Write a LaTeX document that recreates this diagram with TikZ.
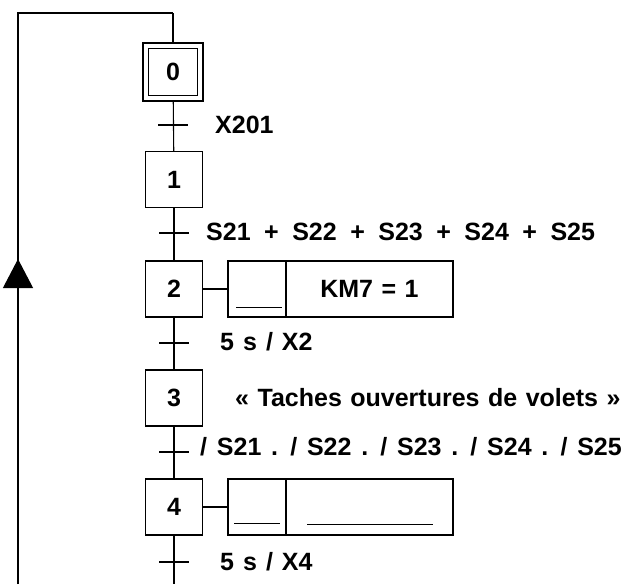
\documentclass[tikz,border=0pt]{standalone}
\usepackage{fontspec}
\setmainfont{Liberation Sans}
\usepackage{tikz}
\usetikzlibrary{arrows.meta, positioning, calc}

\begin{document}
\begin{tikzpicture}[
    x=1pt, y=-1pt,
    font=\fontsize{25}{29}\selectfont\bfseries,
    >=Stealth,
    % Styles
    stepbox/.style={
      draw=black,
      fill=white,
      line width=1.3pt,
      minimum width=57pt,
      minimum height=56pt,
      inner sep=0pt
    },
    qualcell/.style={
      draw=black,
      line width=1.3pt,
      minimum width=58pt,
      minimum height=56pt,
      inner sep=0pt
    },
    actcell/.style={
      draw=black,
      line width=1.3pt,
      minimum width=167pt,
      minimum height=56pt,
      inner sep=0pt
    },
    condlabel/.style={
      anchor=base west,
      inner sep=0pt
    },
    link/.style={
      line width=1.1pt,
      draw=black
    },
    tick/.style={
      line width=1.1pt,
      draw=black
    },
    blank/.style={
      line width=1pt,
      draw=black
    }
  ]

    \useasboundingbox (0,0) rectangle (629,584);

    % Steps
    \node (s0) [stepbox, minimum width=60pt, minimum height=58pt] at (173,72) {};
    \node (s0in) [stepbox, minimum width=49pt, minimum height=47pt] at (s0) {0};
    \node (s1) [stepbox] at (174,179.5) {1};
    \node (s2) [stepbox] at (174,289) {2};
    \node (s3) [stepbox] at (174,398) {3};
    \node (s4) [stepbox] at (174,507) {4};

    % Transitions
    \coordinate (t0) at (173,125);
    \coordinate (t1) at (174,233);
    \coordinate (t2) at (174,343);
    \coordinate (t3) at (174,452);
    \coordinate (t4) at (174,562);
    \coordinate (bot) at (174,584);

    % Actions
    \node (a2q) [qualcell] at (257,289) {};
    \node (a2) [actcell] at (369.5,289) {\spaceskip=8.5pt KM7 = 1};
    \node (a4q) [qualcell] at (257,507) {};
    \node (a4) [actcell] at (369.5,507) {};

    % Receptivities and comment
    \node (c0) [condlabel] at (215,133) {X201};
    \node (c1) [condlabel] at (206,240) {\spaceskip=13.5pt S21 + S22 + S23 + S24 + S25};
    \node (c2) [condlabel] at (220,350) {\spaceskip=9pt 5 s / X2};
    \node (note3) [condlabel] at (235,406) {\spaceskip=8.5pt « Taches ouvertures de volets »};
    \node (c3) [condlabel] at (200,455) {\spaceskip=9.8pt / S21 . / S22 . / S23 . / S24 . / S25};
    \node (c4) [condlabel] at (220,570) {\spaceskip=9pt 5 s / X4};

    % Loop back
    \coordinate (bl) at (18,584);
    \coordinate (tl) at (18,13);
    \coordinate (tr) at (173,13);
    \coordinate (ar1) at (18,320);
    \coordinate (ar2) at (18,259);

    % Connections
    \draw [link] (tr) -- (s0.north);
    \draw [link] (s0) -- (s1);
    \draw [link] (s1) -- (s2);
    \draw [link] (s2) -- (s3);
    \draw [link] (s3) -- (s4);
    \draw [link] (s4) -- (bot);
    \draw [link] (bl) -- (tl) -- (tr);
    \draw [link, -{Triangle[width=30pt,length=29pt]}] (ar1) -- (ar2);

    \draw [link] (s2) -- (a2q);
    \draw [link] (s4) -- (a4q);

    % Transition bars
    \foreach \t in {t0,t1,t2,t3,t4}
      \draw [tick] ([xshift=-15pt]\t) -- ([xshift=15pt]\t);

    % Blank qualifiers and action
    \draw [blank] ([xshift=9pt,yshift=10pt]a2q.south west) -- ([xshift=-5pt,yshift=10pt]a2q.south east);
    \draw [blank] ([xshift=7pt,yshift=12pt]a4q.south west) -- ([xshift=-7pt,yshift=12pt]a4q.south east);
    \draw [blank] ([xshift=22pt,yshift=11pt]a4.south west) -- ([xshift=-21pt,yshift=11pt]a4.south east);

  \end{tikzpicture}
\end{document}
